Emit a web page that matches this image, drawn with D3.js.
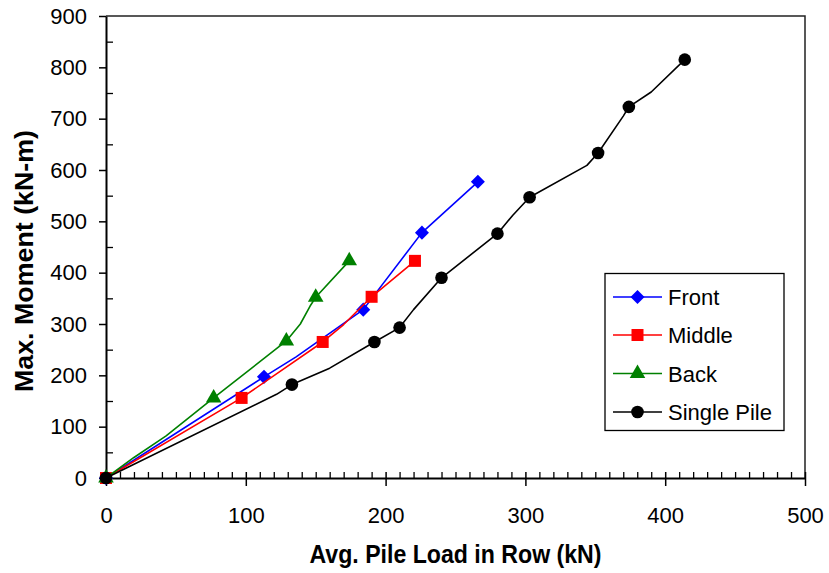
<!DOCTYPE html>
<html>
<head>
<meta charset="utf-8">
<script src="https://cdn.jsdelivr.net/npm/d3@7"></script>
<style>
  html, body { margin: 0; padding: 0; background: #fff; }
  svg { display: block; font-family: "Liberation Sans", Arial, sans-serif; }
</style>
</head>
<body>
<svg id="chart" width="829" height="573"></svg>
<script>
// Average pile load in the row (kN) vs. maximum bending moment (kN-m).
// "mark" flags the readings that carry a symbol; the others only shape the line.
const frontLoad   = [0, 113, 136, 184, 226, 266];
const frontMoment = [0, 197, 236, 328, 478, 577];
const frontMark   = [1, 1, 0, 1, 1, 1];

const middleLoad   = [0, 97, 155, 170, 190, 221];
const middleMoment = [0, 156, 265, 299, 353, 423];
const middleMark   = [1, 1, 1, 0, 1, 1];

const backLoad   = [0, 20, 43, 77, 129, 139, 146, 150, 174];
const backMoment = [0, 40, 82, 156, 267, 300, 335, 352, 423];
const backMark   = [1, 0, 0, 1, 1, 0, 0, 1, 1];

const singleLoad   = [0, 122, 133, 160, 192, 210, 220, 240, 280, 291, 303, 344, 352, 370, 374, 390, 414];
const singleMoment = [0, 163, 182, 214, 265, 293, 328, 390, 476, 512, 547, 609, 633, 705, 723, 752, 815];
const singleMark   = [1, 0, 1, 0, 1, 1, 0, 1, 1, 0, 1, 0, 1, 0, 1, 0, 1];

const seriesNames = ["Front", "Middle", "Back", "Single Pile"];
const xTicks = [0, 100, 200, 300, 400, 500];
const yTicks = [0, 100, 200, 300, 400, 500, 600, 700, 800, 900];

const series = [
  { name: seriesNames[0], load: frontLoad,  moment: frontMoment,  mark: frontMark,  color: "#0000ff", symbol: "diamond" },
  { name: seriesNames[1], load: middleLoad, moment: middleMoment, mark: middleMark, color: "#ff0000", symbol: "square" },
  { name: seriesNames[2], load: backLoad,   moment: backMoment,   mark: backMark,   color: "#008000", symbol: "triangle" },
  { name: seriesNames[3], load: singleLoad, moment: singleMoment, mark: singleMark, color: "#000000", symbol: "circle" }
];

const svg = d3.select("#chart");
const plot = { left: 106, right: 805, top: 16, bottom: 478 };

const x = d3.scaleLinear().domain([0, 500]).range([plot.left, plot.right]);
const y = d3.scaleLinear().domain([0, 900]).range([plot.bottom, plot.top]);

// Frame on the top and right
svg.append("path")
  .attr("d", `M${plot.left},${plot.top}H${plot.right}V${plot.bottom}`)
  .attr("fill", "none").attr("stroke", "#222").attr("stroke-width", 1.5);

// Minor ticks (inside the plot)
const xMinor = d3.range(0, 501, 10).filter(v => v % 100 !== 0);
const yMinor = d3.range(50, 900, 100);
svg.append("g")
  .attr("transform", `translate(0,${plot.bottom})`)
  .call(d3.axisBottom(x).tickValues(xMinor).tickSizeInner(-6).tickSizeOuter(0).tickFormat(""))
  .call(g => g.select(".domain").remove())
  .selectAll("line").attr("stroke", "#000").attr("stroke-width", 1.3);
svg.append("g")
  .attr("transform", `translate(${plot.left},0)`)
  .call(d3.axisLeft(y).tickValues(yMinor).tickSizeInner(-7).tickSizeOuter(0).tickFormat(""))
  .call(g => g.select(".domain").remove())
  .selectAll("line").attr("stroke", "#000").attr("stroke-width", 1.3);

// Major ticks and labels
const xAxis = svg.append("g")
  .attr("transform", `translate(0,${plot.bottom})`)
  .call(d3.axisBottom(x).tickValues(xTicks).tickSizeInner(8).tickSizeOuter(0).tickPadding(21));
xAxis.select(".domain").attr("stroke", "#000").attr("stroke-width", 2);
xAxis.selectAll(".tick line").attr("y1", -6).attr("stroke", "#000").attr("stroke-width", 1.5);
xAxis.selectAll("text").attr("font-size", 22).attr("fill", "#000")
  .attr("font-family", "'Liberation Sans', Arial, sans-serif");

const yAxis = svg.append("g")
  .attr("transform", `translate(${plot.left},0)`)
  .call(d3.axisLeft(y).tickValues(yTicks).tickSizeInner(7).tickSizeOuter(0).tickPadding(12));
yAxis.select(".domain").attr("stroke", "#000").attr("stroke-width", 2);
yAxis.selectAll(".tick line").attr("stroke", "#000").attr("stroke-width", 1.5);
yAxis.selectAll("text").attr("font-size", 22).attr("fill", "#000")
  .attr("font-family", "'Liberation Sans', Arial, sans-serif");

// Axis titles
svg.append("text")
  .attr("x", (plot.left + plot.right) / 2).attr("y", 563)
  .attr("text-anchor", "middle").attr("font-size", 25).attr("font-weight", "bold")
  .attr("textLength", 292).attr("lengthAdjust", "spacingAndGlyphs")
  .text("Avg. Pile Load in Row (kN)");
svg.append("text")
  .attr("transform", "translate(33,261) rotate(-90)")
  .attr("text-anchor", "middle").attr("font-size", 25).attr("font-weight", "bold")
  .attr("textLength", 262).attr("lengthAdjust", "spacingAndGlyphs")
  .text("Max. Moment (kN-m)");

// Marker shapes
const symbolPath = {
  diamond:  d3.symbol().type(d3.symbolDiamond2).size(125)(),
  square:   d3.symbol().type(d3.symbolSquare).size(144)(),
  triangle: d3.symbol().type(d3.symbolTriangle).size(105)(),
  circle:   d3.symbol().type(d3.symbolCircle).size(125)()
};

const line = d3.line().x(d => x(d.load)).y(d => y(d.moment)).curve(d3.curveLinear);

series.forEach(s => {
  const pts = s.load.map((v, i) => ({ load: v, moment: s.moment[i], mark: s.mark[i] }));
  const g = svg.append("g");
  g.append("path").attr("d", line(pts))
    .attr("fill", "none").attr("stroke", s.color).attr("stroke-width", 1.6)
    .attr("stroke-linejoin", "round");
  g.selectAll("path.m").data(pts.filter(p => p.mark)).enter().append("path")
    .attr("class", "m")
    .attr("transform", p => `translate(${x(p.load)},${y(p.moment)})`)
    .attr("d", symbolPath[s.symbol]).attr("fill", s.color);
});

// Legend
const legend = svg.append("g");
legend.append("rect").attr("x", 605).attr("y", 273.5).attr("width", 179).attr("height", 157)
  .attr("fill", "#fff").attr("stroke", "#000").attr("stroke-width", 1.3);
const rowY = [297, 335, 373.5, 412];
series.forEach((s, i) => {
  const r = legend.append("g").attr("transform", `translate(0,${rowY[i]})`);
  r.append("line").attr("x1", 613).attr("x2", 662).attr("y1", 0).attr("y2", 0)
    .attr("stroke", s.color).attr("stroke-width", 1.6);
  r.append("path").attr("transform", "translate(637.5,0)").attr("d", symbolPath[s.symbol]).attr("fill", s.color);
  r.append("text").attr("x", 668).attr("y", 8).attr("font-size", 22).attr("fill", "#000").text(s.name);
});
</script>
</body>
</html>
